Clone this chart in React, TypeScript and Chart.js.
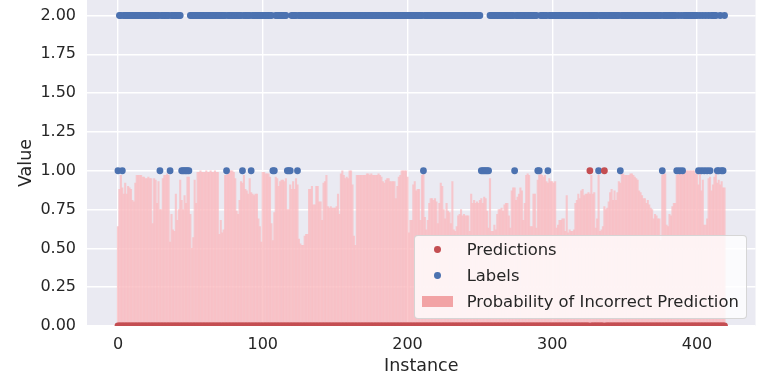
import React, { useEffect, useRef } from 'react';
import { Chart, registerables } from 'chart.js';

Chart.register(...registerables);

// ---- data ----
const probIncorrect: number[] = [
  0.64, 0.88, 0.97, 0.89, 0.85, 0.92, 0.85, 0.90, 0.89, 0.88,
  0.81, 0.80, 0.92, 0.97, 0.97, 0.97, 0.97, 0.96, 0.96, 0.95,
  0.95, 0.96, 0.95, 0.95, 0.66, 0.95, 0.94, 0.79, 0.93, 0.75,
  0.75, 0.95, 0.97, 0.97, 0.98, 0.97, 0.54, 0.72, 0.62, 0.61,
  0.85, 0.68, 0.75, 0.94, 0.81, 0.75, 0.84, 0.79, 0.96, 0.96,
  0.72, 0.50, 0.57, 0.94, 0.79, 0.99, 0.99, 1.00, 0.99, 0.99,
  0.99, 1.00, 0.99, 0.99, 1.00, 0.99, 0.99, 1.00, 0.99, 0.99,
  0.59, 0.68, 0.60, 0.62, 0.97, 0.97, 0.98, 1.00, 1.00, 1.00,
  0.99, 0.95, 0.74, 0.72, 0.81, 0.93, 0.92, 0.97, 0.88, 0.87,
  0.85, 0.95, 0.86, 0.85, 0.84, 0.85, 0.85, 0.69, 0.64, 0.54,
  0.99, 0.99, 0.98, 0.98, 0.98, 0.96, 0.66, 0.55, 0.73, 0.96,
  0.95, 0.90, 0.93, 0.94, 0.94, 0.93, 0.95, 0.75, 0.75, 0.91,
  0.88, 0.93, 0.88, 0.95, 0.91, 0.56, 0.53, 0.52, 0.52, 0.58,
  0.59, 0.59, 0.88, 0.88, 0.90, 0.78, 0.78, 0.90, 0.90, 0.80,
  0.80, 0.68, 0.92, 0.93, 0.97, 0.77, 0.76, 0.77, 0.76, 0.76,
  0.76, 0.77, 0.85, 0.72, 0.98, 1.00, 0.97, 0.95, 0.96, 0.95,
  1.00, 1.00, 0.91, 0.58, 0.52, 0.97, 0.97, 0.97, 0.97, 0.97,
  0.97, 0.97, 0.98, 0.98, 0.97, 0.98, 0.97, 0.97, 0.97, 0.97,
  0.98, 0.97, 0.96, 0.93, 0.92, 0.94, 0.95, 0.95, 0.93, 0.93,
  0.93, 0.93, 0.82, 0.90, 0.96, 0.97, 1.00, 1.00, 1.00, 1.00,
  0.96, 0.60, 0.68, 0.68, 0.91, 0.93, 0.87, 0.88, 0.88, 0.68,
  0.97, 0.98, 0.70, 0.62, 0.68, 0.79, 0.82, 0.82, 0.81, 0.82,
  0.80, 0.66, 0.79, 0.92, 0.90, 0.75, 0.69, 0.79, 0.74, 0.73,
  0.66, 0.93, 0.62, 0.61, 0.64, 0.71, 0.72, 0.75, 0.71, 0.72,
  0.71, 0.71, 0.71, 0.61, 0.85, 0.79, 0.81, 0.79, 0.80, 0.79,
  0.81, 0.82, 0.79, 0.83, 0.82, 0.74, 0.63, 0.95, 0.61, 0.61,
  0.65, 0.62, 0.72, 0.75, 0.75, 0.76, 0.74, 0.78, 0.79, 0.79,
  0.71, 0.63, 0.87, 0.89, 0.89, 0.81, 0.83, 0.85, 0.89, 0.87,
  0.68, 0.79, 0.97, 0.98, 0.97, 0.64, 0.64, 0.85, 0.85, 0.63,
  0.94, 0.97, 0.98, 0.97, 0.96, 0.97, 0.93, 0.92, 0.95, 0.93,
  0.93, 0.92, 0.93, 0.63, 0.65, 0.68, 0.68, 0.69, 0.69, 0.61,
  0.84, 0.60, 0.62, 0.61, 0.61, 0.62, 0.79, 0.81, 0.85, 0.82,
  0.87, 0.88, 0.84, 0.85, 0.85, 0.86, 0.85, 0.97, 0.85, 0.86,
  0.63, 0.69, 0.97, 0.61, 0.62, 0.64, 0.77, 0.75, 0.76, 0.80,
  0.86, 0.88, 0.81, 0.87, 0.81, 0.86, 0.93, 0.92, 0.98, 0.98,
  0.97, 0.97, 0.97, 0.97, 0.98, 0.98, 0.97, 0.96, 0.95, 0.94,
  0.87, 0.86, 0.84, 0.82, 0.82, 0.79, 0.81, 0.78, 0.76, 0.75,
  0.69, 0.72, 0.71, 0.69, 0.69, 0.55, 0.97, 0.98, 0.98, 0.65,
  0.64, 0.72, 0.71, 0.77, 0.79, 0.79, 0.97, 0.98, 0.98, 0.99,
  0.99, 1.00, 1.00, 1.00, 1.00, 1.00, 1.00, 1.00, 1.00, 0.98,
  0.98, 0.91, 0.98, 0.87, 0.94, 0.65, 0.65, 0.69, 0.95, 0.96,
  0.87, 0.91, 0.96, 0.98, 0.92, 0.94, 0.91, 0.93, 0.89, 0.89,
];

// instances whose label is 1 (all other labels are 2)
const labelOneInstances: number[] = [
  0, 3, 29, 36, 44, 45, 46, 47, 48, 49, 75, 86, 92, 107, 108, 117, 118, 119, 124,
  211, 251, 252, 253, 254, 255, 256, 274, 290, 291, 297, 332, 347, 376, 386, 388,
  390, 401, 403, 405, 407, 409, 414, 415, 417, 418,
];
// instances whose prediction is 1 (all other predictions are 0)
const predictionOneInstances: number[] = [326, 336];

const xTickValues: number[] = [0, 100, 200, 300, 400];
const yTickValues: number[] = [0, 0.25, 0.5, 0.75, 1, 1.25, 1.5, 1.75, 2];
const seriesNames: string[] = ['Predictions', 'Labels', 'Probability of Incorrect Prediction'];
const xTitle = 'Instance';
const yTitle = 'Value';

// ---- styles ----
const RED = '#C44E52';
const BLUE = '#4C72B0';
const BAR_FILL = 'rgba(250,186,192,0.76)';
const LEGEND_PATCH = 'rgb(242,163,165)';
const TEXT = '#262626';
const FONT = "'DejaVu Sans', sans-serif";

const bgPlugin = {
  id: 'bgPlugin',
  beforeDraw(chart: any) {
    const { ctx, chartArea: a, width, height } = chart;
    ctx.save();
    ctx.fillStyle = '#ffffff';
    ctx.fillRect(0, 0, width, height);
    ctx.fillStyle = '#EAEAF2';
    ctx.fillRect(a.left, a.top, a.right - a.left, a.bottom - a.top);
    ctx.restore();
  },
};

export default function App() {
  const ref = useRef<HTMLCanvasElement | null>(null);

  useEffect(() => {
    if (!ref.current) return;
    const instances = probIncorrect.map((_, i) => i);
    const predictions = instances.map((i) => (predictionOneInstances.includes(i) ? 1 : 0));
    const labels = instances.map((i) => (labelOneInstances.includes(i) ? 1 : 2));

    const chart = new Chart(ref.current, {
      type: 'bar',
      data: {
        datasets: [
          {
            type: 'scatter',
            label: seriesNames[0],
            data: instances.map((i) => ({ x: i, y: predictions[i] })),
            backgroundColor: RED,
            borderWidth: 0,
            pointRadius: 3.4,
            pointHoverRadius: 3.4,
            order: 0,
            clip: 0,
          } as any,
          {
            type: 'scatter',
            label: seriesNames[1],
            data: instances.map((i) => ({ x: i, y: labels[i] })),
            backgroundColor: BLUE,
            borderWidth: 0,
            pointRadius: 3.4,
            pointHoverRadius: 3.4,
            order: 1,
            clip: 0,
          } as any,
          {
            type: 'bar',
            label: seriesNames[2],
            data: instances.map((i) => ({ x: i, y: probIncorrect[i] })),
            backgroundColor: BAR_FILL,
            borderWidth: 0,
            barPercentage: 1,
            categoryPercentage: 1,
            order: 2,
          } as any,
        ],
      },
      options: {
        responsive: false,
        animation: false,
        events: [],
        layout: { padding: { left: 0, right: 2.5, top: 0, bottom: 0 }, autoPadding: false },
        plugins: { legend: { display: false }, tooltip: { enabled: false } },
        scales: {
          x: {
            type: 'linear',
            min: -21.39,
            max: 440.39,
            offset: false,
            grid: { color: '#ffffff', lineWidth: 1.4, drawTicks: false, offset: false },
            border: { display: false },
            ticks: {
              color: TEXT,
              font: { family: FONT, size: 16, lineHeight: 1.2 },
              padding: 9.5,
              maxRotation: 0,
              autoSkip: false,
              callback: (v: any) => String(v),
            },
            title: {
              display: true,
              text: xTitle,
              color: TEXT,
              font: { family: FONT, size: 17.5, lineHeight: 1.0 },
              padding: { top: 0, bottom: 0 },
            },
            afterBuildTicks: (s: any) => {
              s.ticks = xTickValues.map((v) => ({ value: v }));
            },
            afterFit: (s: any) => {
              s.height = 49;
              s.paddingLeft = 0;
              s.paddingRight = 0;
            },
          } as any,
          y: {
            type: 'linear',
            min: 0,
            max: 2.1,
            grid: { color: '#ffffff', lineWidth: 1.4, drawTicks: false },
            border: { display: false },
            ticks: {
              color: TEXT,
              font: { family: FONT, size: 16, lineHeight: 1.2 },
              padding: 11,
              autoSkip: false,
              callback: (v: any) => Number(v).toFixed(2),
            },
            title: {
              display: true,
              text: yTitle,
              color: TEXT,
              font: { family: FONT, size: 17.5, lineHeight: 1.2 },
              padding: { top: 16, bottom: 0 },
            },
            afterBuildTicks: (s: any) => {
              s.ticks = yTickValues.map((v) => ({ value: v }));
            },
            afterFit: (s: any) => {
              s.width = 87;
              s.paddingTop = 0;
              s.paddingBottom = 0;
            },
          } as any,
        },
      },
      plugins: [bgPlugin],
    });
    return () => chart.destroy();
  }, []);

  const legendRows = [
    { name: seriesNames[0], kind: 'dot', color: RED, cy: 249.3 },
    { name: seriesNames[1], kind: 'dot', color: BLUE, cy: 275.3 },
    { name: seriesNames[2], kind: 'patch', color: LEGEND_PATCH, cy: 301.7 },
  ];

  return (
    <div style={{ position: 'absolute', left: 0, top: 0, width: 758, height: 375, background: '#fff', overflow: 'hidden' }}>
      <canvas ref={ref} width={758} height={375} style={{ display: 'block', width: 758, height: 375 }} />
      <div
        style={{
          position: 'absolute',
          left: 414,
          top: 234.5,
          width: 333,
          height: 84,
          boxSizing: 'border-box',
          background: 'rgba(255,255,255,0.8)',
          border: '1px solid rgba(204,204,204,0.8)',
          borderRadius: 4,
        }}
      />
      {legendRows.map((r) => (
        <React.Fragment key={r.name}>
          {r.kind === 'dot' ? (
            <div
              style={{
                position: 'absolute',
                left: 437.3 - 3.4,
                top: r.cy - 3.4,
                width: 6.8,
                height: 6.8,
                borderRadius: '50%',
                background: r.color,
              }}
            />
          ) : (
            <div
              style={{
                position: 'absolute',
                left: 422,
                top: r.cy - 5.3,
                width: 31,
                height: 10.6,
                background: r.color,
              }}
            />
          )}
          <div
            style={{
              position: 'absolute',
              left: 466.7,
              top: r.cy - 9.7,
              fontFamily: FONT,
              fontSize: 16.4,
              lineHeight: '20px',
              color: TEXT,
              whiteSpace: 'nowrap',
            }}
          >
            {r.name}
          </div>
        </React.Fragment>
      ))}
    </div>
  );
}
